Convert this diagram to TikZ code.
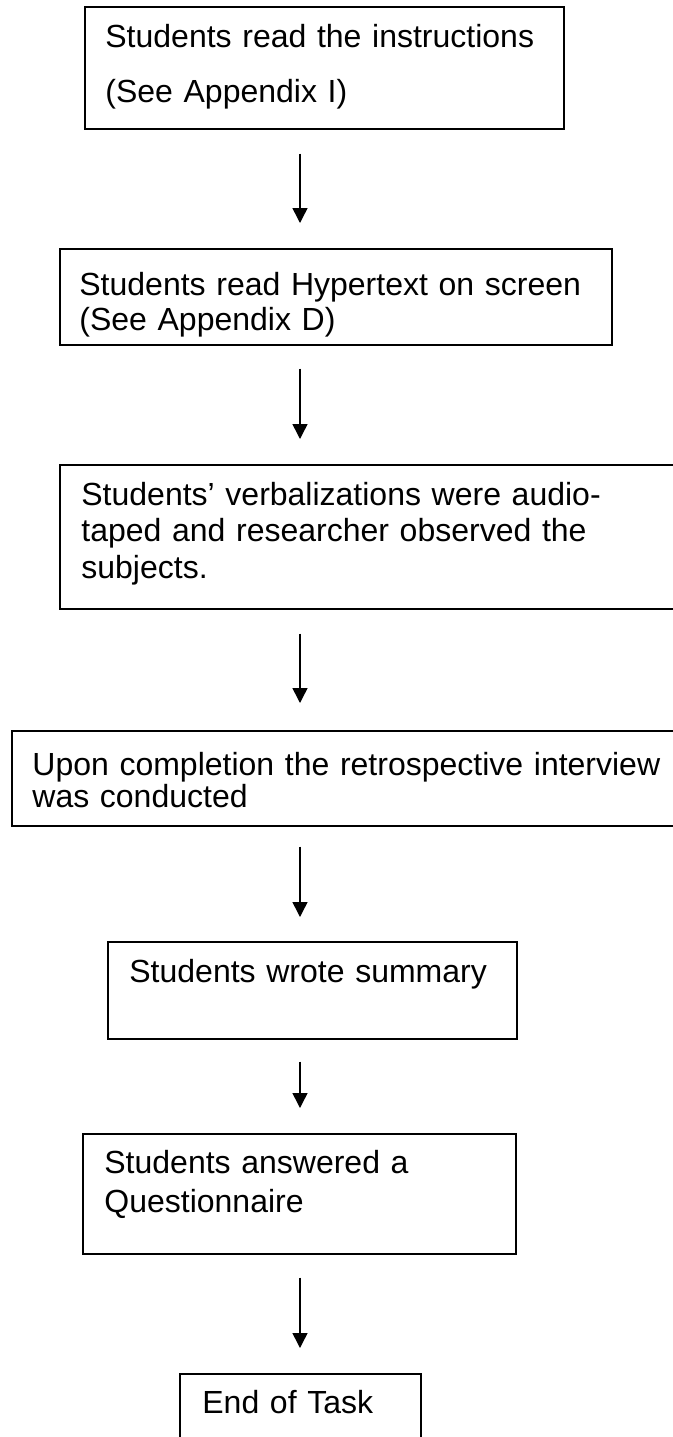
\documentclass[tikz,border=0pt]{standalone}
\usepackage{fontspec}
\setmainfont{Liberation Sans}
\usetikzlibrary{arrows.meta}

\tikzset{
  stepbox/.style={draw=black, line width=0.75pt, fill=none, inner sep=0pt,
                  anchor=north west, rectangle},
  steptext/.style={anchor=base west, inner sep=0pt, text width=330pt,
                   align=left},
  flow/.style={draw=black, line width=0.75pt,
               -{Triangle[length=7.5pt, width=7.5pt]}},
}

\begin{document}
\begin{tikzpicture}[x=0.5pt, y=-0.5pt]
  \useasboundingbox (0,0) rectangle (673,1437);
  \clip (0,0) rectangle (673,1437);

  % vertical axis shared by all arrows
  \coordinate (ax) at (300,0);

  % boxes
  \node[stepbox, minimum width=239.5pt, minimum height=61pt]   (b1) at (84,6)    {};
  \node[stepbox, minimum width=276pt,   minimum height=48pt]   (b2) at (59,248)  {};
  \node[stepbox, minimum width=320.5pt, minimum height=72pt]   (b3) at (59,464)  {};
  \node[stepbox, minimum width=344.5pt, minimum height=47.5pt] (b4) at (11,730)  {};
  \node[stepbox, minimum width=204.5pt, minimum height=48.5pt] (b5) at (107,941) {};
  \node[stepbox, minimum width=216.5pt, minimum height=60pt]   (b6) at (82,1133) {};
  \node[stepbox, minimum width=120.5pt, minimum height=45pt]   (b7) at (179,1373){};

  % box texts
  \node[steptext, font=\fontsize{16pt}{27.5pt}\selectfont] (t1) at (105,47)
    {Students read the instructions\\(See Appendix I)};
  \node[steptext, font=\fontsize{16pt}{17.5pt}\selectfont] (t2) at (79,295)
    {Students read Hypertext on screen\\(See Appendix D)};
  \node[steptext, font=\fontsize{16pt}{18.3pt}\selectfont] (t3) at (81,505)
    {Students’ verbalizations were audio-\\taped and researcher observed the\\subjects.};
  \node[steptext, font=\fontsize{16pt}{16pt}\selectfont] (t4) at (32,775)
    {Upon completion the retrospective interview\\was conducted};
  \node[steptext, font=\fontsize{16pt}{18pt}\selectfont] (t5) at (129,982)
    {Students wrote summary};
  \node[steptext, font=\fontsize{16pt}{19.5pt}\selectfont] (t6) at (104,1173)
    {Students answered a\\Questionnaire};
  \node[steptext, font=\fontsize{16pt}{18pt}\selectfont] (t7) at (202,1413)
    {End of Task};

  % connectors
  \draw[flow, shorten <=12pt,   shorten >=12.5pt] (b1.south -| ax) -- (b2.north -| ax);
  \draw[flow, shorten <=11.5pt, shorten >=12.5pt] (b2.south -| ax) -- (b3.north -| ax);
  \draw[flow, shorten <=12pt,   shorten >=13.5pt] (b3.south -| ax) -- (b4.north -| ax);
  \draw[flow, shorten <=10pt,   shorten >=12pt]   (b4.south -| ax) -- (b5.north -| ax);
  \draw[flow, shorten <=11pt,   shorten >=12.5pt] (b5.south -| ax) -- (b6.north -| ax);
  \draw[flow, shorten <=11.5pt, shorten >=12.5pt] (b6.south -| ax) -- (b7.north -| ax);
\end{tikzpicture}
\end{document}
